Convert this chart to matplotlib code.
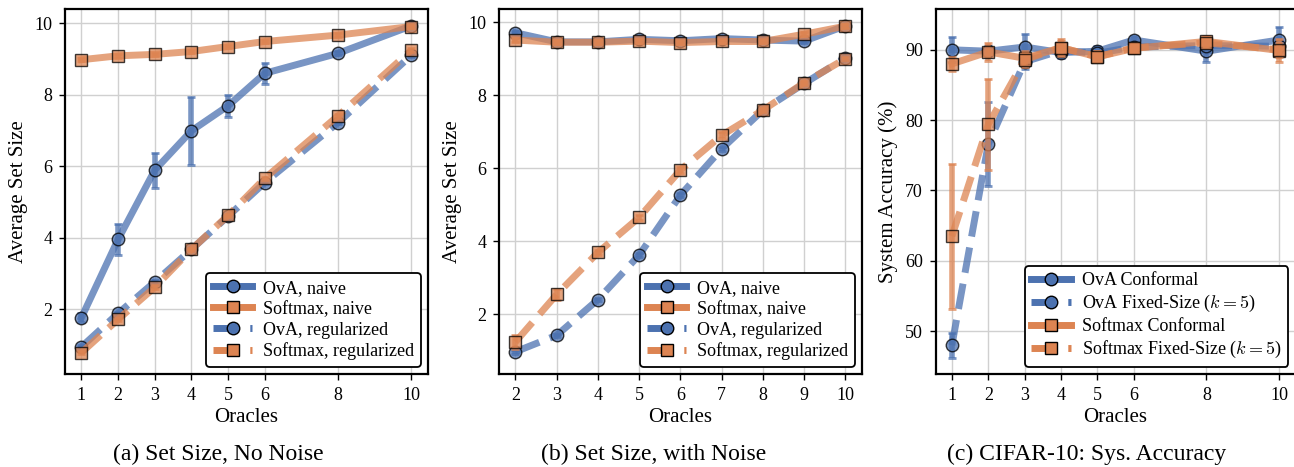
import numpy as np
import matplotlib
matplotlib.use("Agg")
import matplotlib.pyplot as plt

plt.rcParams['font.family'] = ['Liberation Serif', 'DejaVu Serif']
plt.rcParams['mathtext.fontset'] = 'cm'

BLUE = '#4C72B0'
ORANGE = '#DD8452'

# (a) set size, no noise
oracles_a = [1, 2, 3, 4, 5, 6, 8, 10]
ova_naive_a = [1.76, 3.95, 5.89, 6.99, 7.69, 8.60, 9.16, 9.93]
ova_naive_a_err = [0.12, 0.43, 0.49, 0.95, 0.31, 0.30, 0.06, 0.06]
soft_naive_a = [8.98, 9.09, 9.13, 9.21, 9.35, 9.49, 9.67, 9.91]
soft_naive_a_err = [0.04, 0.05, 0.05, 0.05, 0.05, 0.05, 0.05, 0.04]
ova_reg_a = [0.94, 1.88, 2.76, 3.67, 4.60, 5.54, 7.22, 9.11]
ova_reg_a_err = [0.05, 0.05, 0.06, 0.05, 0.05, 0.05, 0.05, 0.05]
soft_reg_a = [0.78, 1.71, 2.61, 3.67, 4.62, 5.66, 7.41, 9.25]
soft_reg_a_err = [0.05, 0.05, 0.06, 0.05, 0.05, 0.05, 0.05, 0.05]

# (b) set size, with noise
oracles_b = [2, 3, 4, 5, 6, 7, 8, 9, 10]
ova_naive_b = [9.71, 9.46, 9.46, 9.53, 9.49, 9.55, 9.51, 9.48, 9.90]
soft_naive_b = [9.51, 9.45, 9.45, 9.48, 9.44, 9.47, 9.47, 9.67, 9.89]
ova_reg_b = [0.97, 1.42, 2.40, 3.62, 5.26, 6.53, 7.59, 8.32, 9.02]
soft_reg_b = [1.24, 2.54, 3.69, 4.65, 5.95, 6.90, 7.59, 8.34, 9.00]
ova_naive_b_err = [0.05] * 9
soft_naive_b_err = [0.05] * 9
ova_reg_b_err = [0.05, 0.05, 0.05, 0.05, 0.05, 0.05, 0.05, 0.05, 0.05]
soft_reg_b_err = [0.2, 0.15, 0.08, 0.08, 0.08, 0.08, 0.05, 0.05, 0.05]

# (c) CIFAR-10 system accuracy
oracles_c = [1, 2, 3, 4, 5, 6, 8, 10]
ova_conf_c = [90.0, 89.8, 90.4, 89.6, 89.8, 91.4, 89.8, 91.4]
ova_conf_c_err = [1.8, 0.8, 1.8, 0.8, 0.8, 0.6, 1.5, 1.8]
ova_fixed_c = [48.0, 76.6, 88.3, 89.9, 89.5, 90.4, 90.6, 90.5]
ova_fixed_c_err = [1.8, 6.0, 1.0, 0.8, 0.8, 0.6, 0.8, 0.8]
soft_conf_c = [88.0, 89.7, 88.8, 90.3, 89.0, 90.2, 91.2, 89.9]
soft_conf_c_err = [1.0, 1.3, 1.0, 1.2, 0.8, 0.6, 0.8, 1.6]
soft_fixed_c = [63.5, 79.4, 88.6, 90.3, 89.0, 90.3, 91.0, 90.0]
soft_fixed_c_err = [10.3, 6.5, 1.0, 1.0, 0.8, 0.6, 0.8, 1.0]


def draw(ax, x, y, err, color, marker, ls, label):
    ax.errorbar(x, y, yerr=err, fmt='none', ecolor=color, alpha=0.75,
                elinewidth=4, capsize=3, capthick=2)
    ax.plot(x, y, color=color, ls=ls, lw=5, marker=marker, ms=9,
            mec='black', mew=1, mfc=color, alpha=0.75, label=label)


def style(ax, xticks, ylabel):
    ax.set_xticks(xticks)
    ax.grid(True, color='#d0d0d0', lw=1)
    ax.set_axisbelow(True)
    for s in ax.spines.values():
        s.set_linewidth(1.6)
    ax.tick_params(labelsize=13, length=4, width=1, pad=5)
    ax.set_xlabel('Oracles', fontsize=15, labelpad=3)
    ax.set_ylabel(ylabel, fontsize=15, labelpad=5)


fig = plt.figure(figsize=(12.94, 4.67), dpi=100)
ax1 = fig.add_axes([0.0502, 0.1991, 0.2805, 0.7816])
ax2 = fig.add_axes([0.3856, 0.1991, 0.2805, 0.7816])
ax3 = fig.add_axes([0.7230, 0.1991, 0.2782, 0.7816])

draw(ax1, oracles_a, ova_naive_a, ova_naive_a_err, BLUE, 'o', '-', 'OvA, naive')
draw(ax1, oracles_a, soft_naive_a, soft_naive_a_err, ORANGE, 's', '-', 'Softmax, naive')
draw(ax1, oracles_a, ova_reg_a, ova_reg_a_err, BLUE, 'o', '--', 'OvA, regularized')
draw(ax1, oracles_a, soft_reg_a, soft_reg_a_err, ORANGE, 's', '--', 'Softmax, regularized')
style(ax1, oracles_a, 'Average Set Size')
ax1.set_xlim(0.55, 10.45)
ax1.set_ylim(0.18, 10.4)
ax1.set_yticks([2, 4, 6, 8, 10])

draw(ax2, oracles_b, ova_naive_b, ova_naive_b_err, BLUE, 'o', '-', 'OvA, naive')
draw(ax2, oracles_b, soft_naive_b, soft_naive_b_err, ORANGE, 's', '-', 'Softmax, naive')
draw(ax2, oracles_b, ova_reg_b, ova_reg_b_err, BLUE, 'o', '--', 'OvA, regularized')
draw(ax2, oracles_b, soft_reg_b, soft_reg_b_err, ORANGE, 's', '--', 'Softmax, regularized')
style(ax2, oracles_b, 'Average Set Size')
ax2.set_xlim(1.6, 10.4)
ax2.set_ylim(0.36, 10.36)
ax2.set_yticks([2, 4, 6, 8, 10])

draw(ax3, oracles_c, ova_conf_c, ova_conf_c_err, BLUE, 'o', '-', 'OvA Conformal')
draw(ax3, oracles_c, ova_fixed_c, ova_fixed_c_err, BLUE, 'o', '--', 'OvA Fixed-Size ($k=5$)')
draw(ax3, oracles_c, soft_conf_c, soft_conf_c_err, ORANGE, 's', '-', 'Softmax Conformal')
draw(ax3, oracles_c, soft_fixed_c, soft_fixed_c_err, ORANGE, 's', '--', 'Softmax Fixed-Size ($k=5$)')
style(ax3, oracles_c, 'System Accuracy (%)')
ax3.set_xlim(0.55, 10.45)
ax3.set_ylim(43.9, 95.8)
ax3.set_yticks([50, 60, 70, 80, 90])

for ax in (ax1, ax2, ax3):
    leg = ax.legend(loc='lower right', fontsize=13, framealpha=1,
                    edgecolor='black', handlelength=2.2, labelspacing=0.22,
                    borderaxespad=0.4, handletextpad=0.6, borderpad=0.35)
    leg.get_frame().set_linewidth(1.3)
    for h in leg.get_lines():
        h.set_alpha(1)

fig.text(0.169, 0.015, '(a) Set Size, No Noise', ha='center', fontsize=17)
fig.text(0.505, 0.015, '(b) Set Size, with Noise', ha='center', fontsize=17)
fig.text(0.840, 0.015, '(c) CIFAR-10: Sys. Accuracy', ha='center', fontsize=17)

fig.savefig('out.png', dpi=100)
